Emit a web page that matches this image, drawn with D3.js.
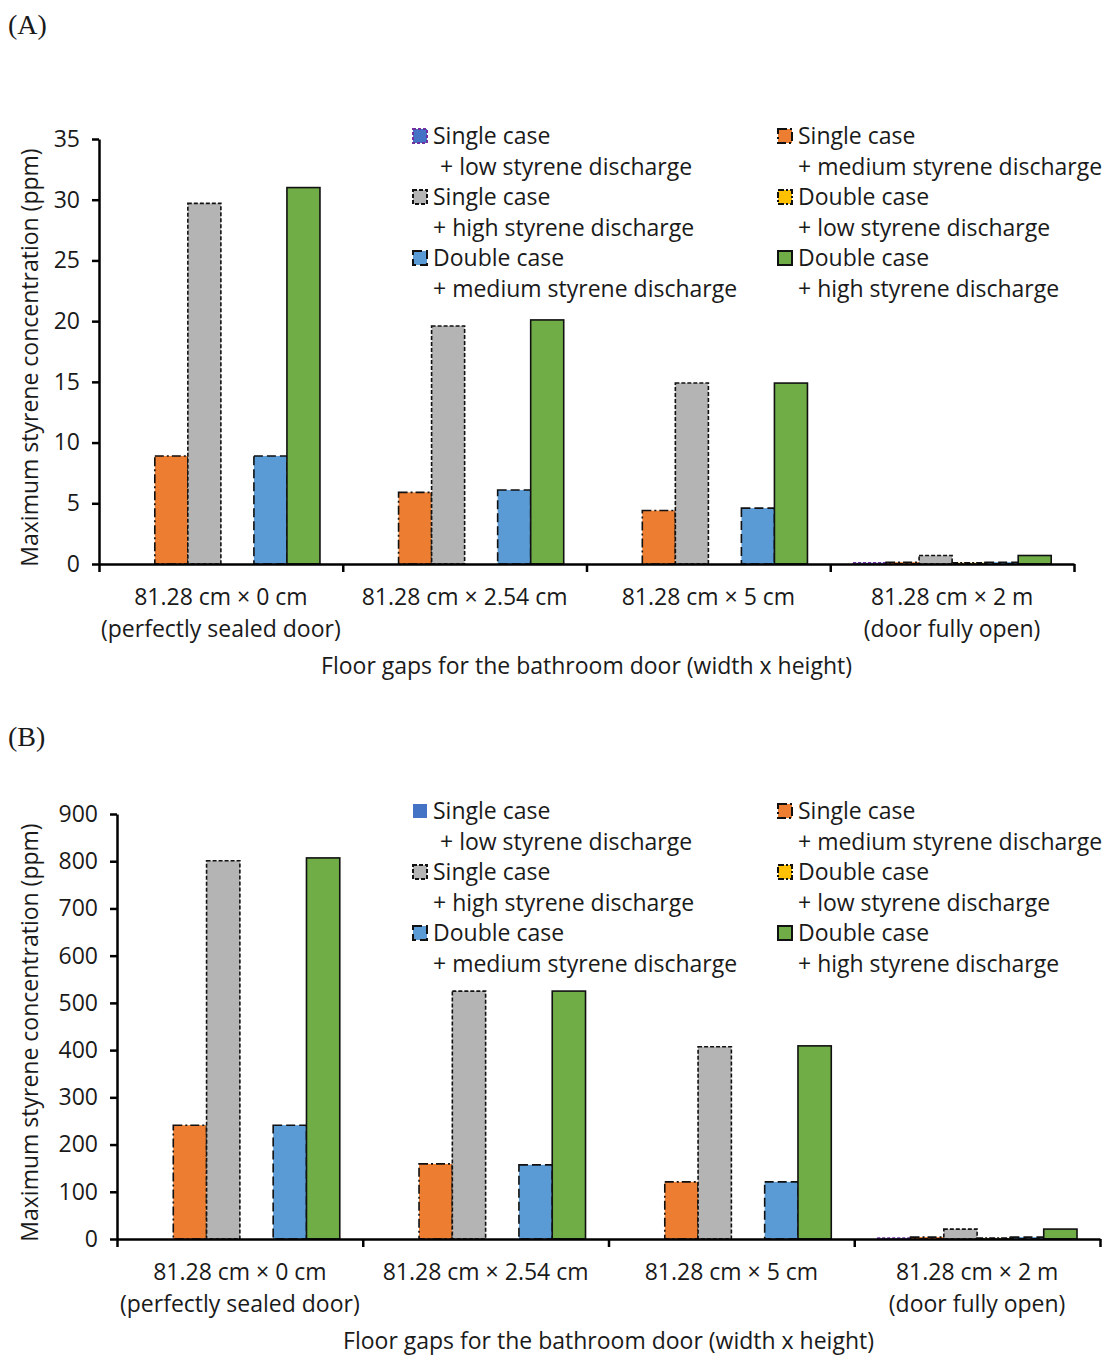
<!DOCTYPE html>
<html>
<head>
<meta charset="utf-8">
<script src="https://cdn.jsdelivr.net/npm/d3@7/dist/d3.min.js"></script>
<style>
  body { margin: 0; background: #fff; }
  svg text { font-family: "Open Sans", "Noto Sans", sans-serif; fill: #1a1a1a; }
</style>
</head>
<body>
<svg id="chart" width="1105" height="1355"></svg>
<script>
// ---- data ----
const categories = [
  ["81.28 cm \u00d7 0 cm", "(perfectly sealed door)"],
  ["81.28 cm \u00d7 2.54 cm", ""],
  ["81.28 cm \u00d7 5 cm", ""],
  ["81.28 cm \u00d7 2 m", "(door fully open)"]
];
const seriesNames = [
  ["Single case", "+ low styrene discharge"],
  ["Single case", "+ medium styrene discharge"],
  ["Single case", "+ high styrene discharge"],
  ["Double case", "+ low styrene discharge"],
  ["Double case", "+ medium styrene discharge"],
  ["Double case", "+ high styrene discharge"]
];
// Panel A values (ppm), one array per series
const singleLowA    = [0, 0, 0, 0.1];
const singleMedA    = [8.9, 5.9, 4.4, 0.15];
const singleHighA   = [29.7, 19.6, 14.9, 0.7];
const doubleLowA    = [0, 0, 0, 0.1];
const doubleMedA    = [8.9, 6.1, 4.6, 0.15];
const doubleHighA   = [31.0, 20.1, 14.9, 0.7];
const yTicksA = [0, 5, 10, 15, 20, 25, 30, 35];
// Panel B values (ppm)
const singleLowB    = [0, 0, 0, 2];
const singleMedB    = [241, 159, 121, 4];
const singleHighB   = [801, 525, 407, 21];
const doubleLowB    = [0, 0, 0, 2];
const doubleMedB    = [241, 157, 121, 4];
const doubleHighB   = [807, 525, 409, 21];
const yTicksB = [0, 100, 200, 300, 400, 500, 600, 700, 800, 900];

const yTitle = "Maximum styrene concentration (ppm)";
const xTitle = "Floor gaps for the bathroom door (width x height)";

// ---- styles ----
const styles = [
  { fill: "#4472C4", stroke: "#7030A0", dash: "3,2" },
  { fill: "#ED7D31", stroke: "#111", dash: "9,3,2,3" },
  { fill: "#B4B4B4", stroke: "#111", dash: "4,2" },
  { fill: "#FFC000", stroke: "#111", dash: "6,2,2,2" },
  { fill: "#5B9BD5", stroke: "#111", dash: "9,4" },
  { fill: "#70AD47", stroke: "#111", dash: null }
];

const FS = 23;
const svg = d3.select("#chart");

function drawPanel(p) {
  const g = svg.append("g");
  const series = p.series;
  const x = d3.scaleBand().domain(d3.range(categories.length)).range([p.x0, p.x1]).paddingInner(0).paddingOuter(0);
  const xs = d3.scaleBand().domain(d3.range(series.length)).range([0, x.bandwidth()]).paddingOuter(0.69).paddingInner(0);
  const y = d3.scaleLinear().domain([0, p.yMax]).range([p.yBase, p.yTop]);

  // bars
  series.forEach((vals, si) => {
    const st = styles[si];
    const w = xs.bandwidth();
    g.append("g").selectAll("rect").data(vals).join("rect")
      .attr("x", (d, i) => x(i) + xs(si))
      .attr("y", d => y(d))
      .attr("width", w)
      .attr("height", d => y(0) - y(d))
      .attr("fill", st.fill)
      .attr("stroke", st.stroke)
      .attr("stroke-width", 1.6)
      .attr("stroke-dasharray", st.dash);
  });

  // y axis
  const ya = g.append("g").attr("transform", `translate(${p.x0},0)`)
    .call(d3.axisLeft(y).tickValues(p.yTicks).tickSize(7).tickPadding(12).tickSizeOuter(0));
  ya.select(".domain").attr("stroke", "#000").attr("stroke-width", 2.5);
  ya.selectAll(".tick line").attr("stroke", "#000").attr("stroke-width", 2.5);
  ya.selectAll(".tick text").attr("font-size", FS).attr("fill", "#1a1a1a").attr("font-family", "'Open Sans', sans-serif");

  // x axis
  const xTickScale = d3.scaleLinear().domain([0, categories.length]).range([p.x0, p.x1]);
  const xa = g.append("g").attr("transform", `translate(0,${p.yBase})`)
    .call(d3.axisBottom(xTickScale).tickValues(d3.range(categories.length + 1)).tickSize(8).tickFormat("").tickSizeOuter(0));
  xa.select(".domain").attr("stroke", "#000").attr("stroke-width", 2.5);
  xa.selectAll(".tick line").attr("stroke", "#000").attr("stroke-width", 2.5);

  // category labels
  categories.forEach((c, i) => {
    const cx = x(i) + x.bandwidth() / 2;
    c.forEach((line, li) => {
      if (!line) return;
      g.append("text").attr("x", cx).attr("y", p.yBase + 41 + li * 32)
        .attr("text-anchor", "middle").attr("font-size", FS).text(line);
    });
  });

  // x title
  g.append("text").attr("x", (p.x0 + p.x1) / 2).attr("y", p.yBase + 110)
    .attr("text-anchor", "middle").attr("font-size", FS).text(xTitle);

  // y title
  g.append("text").attr("transform", `translate(${p.yTitleX},${(p.yBase + p.yTop) / 2 + 6}) rotate(-90)`)
    .attr("text-anchor", "middle").attr("font-size", FS).text(yTitle);

  // panel letter
  g.append("text").attr("x", 8).attr("y", p.letterY).attr("font-size", 28)
    .style("font-family", "'Liberation Serif', serif").text(p.letter);

  // legend
  const cols = [p.legX1, p.legX2];
  seriesNames.forEach((nm, i) => {
    const col = i % 2, row = Math.floor(i / 2);
    const lx = cols[col];
    const ly = p.legY + row * 61;
    const st = styles[i];
    const legendStroke = (p.plainLowLegend && i === 0) ? "none" : st.stroke;
    g.append("rect").attr("x", lx).attr("y", ly - 7).attr("width", 14).attr("height", 14)
      .attr("fill", st.fill).attr("stroke", legendStroke).attr("stroke-width", 2)
      .attr("stroke-dasharray", st.dash);
    g.append("text").attr("x", lx + 20).attr("y", ly + 8).attr("font-size", FS).text(nm[0]);
    g.append("text").attr("x", lx + 20 + (i === 0 ? 7 : 0)).attr("y", ly + 39).attr("font-size", FS).text(nm[1]);
  });
}

drawPanel({
  series: [singleLowA, singleMedA, singleHighA, doubleLowA, doubleMedA, doubleHighA],
  yTicks: yTicksA, yMax: 35, x0: 99, x1: 1074, yBase: 564, yTop: 139,
  yTitleX: 38, letter: "(A)", letterY: 34, legX1: 413, legX2: 778, legY: 136, plainLowLegend: false
});
drawPanel({
  series: [singleLowB, singleMedB, singleHighB, doubleLowB, doubleMedB, doubleHighB],
  yTicks: yTicksB, yMax: 900, x0: 117, x1: 1100, yBase: 1239, yTop: 814,
  yTitleX: 38, letter: "(B)", letterY: 746, legX1: 413, legX2: 778, legY: 811, plainLowLegend: true
});
</script>
</body>
</html>
